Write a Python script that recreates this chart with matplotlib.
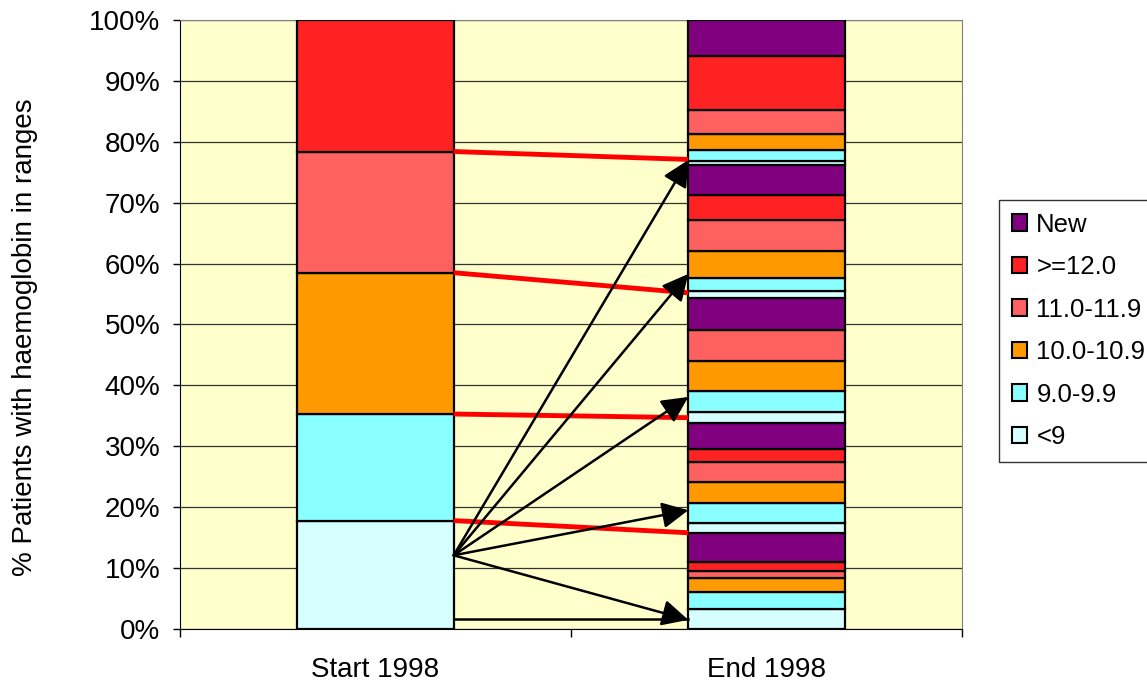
import matplotlib.pyplot as plt
from matplotlib.patches import Patch

plt.rcParams['font.family'] = ['Liberation Sans', 'DejaVu Sans']

# data (percent of patients)
bands = ['<9', '9.0-9.9', '10.0-10.9', '11.0-11.9', '>=12.0', 'New']
colours = ['#d6ffff', '#8affff', '#ff9900', '#ff6060', '#ff2222', '#800080']
labels = ['Start 1998', 'End 1998']

start_1998 = [17.8, 17.5, 23.2, 19.9, 21.6, 0.0]

# end of year bar: five sub-stacks (one per starting band), bottom to top
end_lt9 = [3.3, 1.6, 1.7, 1.1, 0.7]
end_9 = [2.7, 3.3, 3.4, 2.2, 1.8]
end_10 = [2.3, 3.4, 5.0, 4.4, 2.6]
end_11 = [1.3, 3.4, 5.1, 5.1, 4.0]
end_12 = [1.4, 2.1, 0.0, 4.0, 8.8]
end_new = [4.8, 4.3, 5.3, 5.0, 5.9]

# annotation lines
red_from = [17.8, 35.3, 58.5, 78.4]
red_to = [15.8, 34.7, 55.2, 77.1]
arrow_from = 12.1
arrow_to = [77.0, 58.3, 38.1, 19.5, 1.5]
flat_line = 1.6

fig = plt.figure(figsize=(11.47, 6.84), dpi=100)
ax = fig.add_axes([0.1569, 0.0804, 0.6818, 0.8904])
ax.set_facecolor('#ffffcc')

w = 0.4
bottom = 0
for val, col in zip(start_1998, colours):
    if val > 0:
        ax.bar(0, val, w, bottom=bottom, color=col, edgecolor='black', linewidth=1.6, zorder=3)
    bottom += val

end_series = [end_lt9, end_9, end_10, end_11, end_12, end_new]
bottom = 0
for g in range(len(end_lt9)):
    for s, col in zip(end_series, colours):
        val = s[g]
        if val > 0:
            ax.bar(1, val, w, bottom=bottom, color=col, edgecolor='black', linewidth=1.6, zorder=3)
        bottom += val

x0 = 0 + w / 2
x1 = 1 - w / 2
for a, b in zip(red_from, red_to):
    ax.plot([x0, x1], [a, b], color='#ff0000', lw=3.5, zorder=4, solid_capstyle='butt')

ax.plot([x0, x1], [flat_line, flat_line], color='black', lw=1.8, zorder=4)
for t in arrow_to:
    ax.annotate('', xy=(x1, t), xytext=(x0, arrow_from),
                arrowprops=dict(arrowstyle='-|>', mutation_scale=40, lw=1.8,
                                color='black', shrinkA=0, shrinkB=0), zorder=5)

ax.set_xlim(-0.5, 1.5)
ax.set_ylim(0, 100)
ax.set_yticks(range(0, 101, 10))
ax.set_yticklabels([f'{v}%' for v in range(0, 101, 10)])
ax.yaxis.grid(True, color='#333333', lw=0.9)
ax.set_axisbelow(True)

ax.set_xticks([0, 1])
ax.set_xticklabels(labels)
ax.set_xticks([-0.5, 0.5, 1.5], minor=True)
ax.tick_params(axis='x', which='major', length=0, pad=20, labelsize=20)
ax.tick_params(axis='x', which='minor', length=6, width=1, color='black')
ax.tick_params(axis='y', length=5, width=1, pad=9, labelsize=20)

for side in ['top', 'right']:
    ax.spines[side].set_color('#808080')
for side in ['left', 'bottom']:
    ax.spines[side].set_color('black')

ax.set_ylabel('% Patients with haemoglobin in ranges', fontsize=20)
ax.yaxis.set_label_coords(-0.182, 0.479)

handles = [Patch(facecolor=c, edgecolor='black', linewidth=1.5) for c in colours]
leg = fig.legend(handles[::-1], bands[::-1], loc='upper left', bbox_to_anchor=(0.871, 0.708),
                 fontsize=18.5, frameon=True, fancybox=False, edgecolor='black',
                 handlelength=0.6, handleheight=0.6, handletextpad=0.35,
                 labelspacing=0.72, borderpad=0.5, borderaxespad=0)
leg.get_frame().set_linewidth(1.0)

fig.savefig('out.png', dpi=100)
